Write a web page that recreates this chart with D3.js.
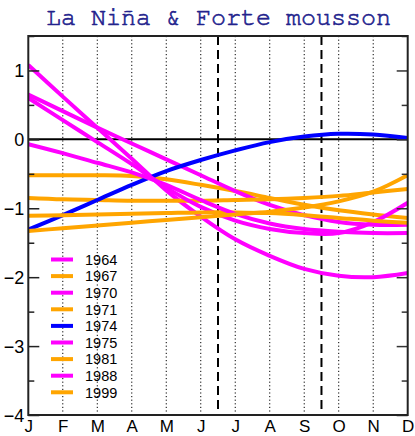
<!DOCTYPE html>
<html>
<head>
<meta charset="utf-8">
<script src="https://cdn.jsdelivr.net/npm/d3@7"></script>
<style>
  html, body { margin: 0; padding: 0; background: #fff; }
  svg { display: block; }
</style>
</head>
<body>
<svg id="chart" width="415" height="436"></svg>
<script>
// Monthly anomaly curves for La Niña years with strong monsoon
const months = ["J", "F", "M", "A", "M", "J", "J", "A", "S", "O", "N", "D"];
const years = ["1964", "1967", "1970", "1971", "1974", "1975", "1981", "1988", "1999"];
const yearColors = ["#ff00ff", "#ffa500", "#ff00ff", "#ffa500", "#0000ff", "#ff00ff", "#ffa500", "#ff00ff", "#ffa500"];

const v1964 = [1.08, 0.62, 0.17, -0.28, -0.74, -1.12, -1.45, -1.69, -1.88, -1.98, -2.0, -1.94];
const v1967 = [-0.52, -0.52, -0.52, -0.53, -0.58, -0.66, -0.75, -0.85, -0.95, -1.03, -1.09, -1.14];
const v1970 = [0.65, 0.41, 0.17, -0.06, -0.29, -0.52, -0.75, -0.95, -1.1, -1.2, -1.24, -1.24];
const v1971 = [-0.85, -0.87, -0.88, -0.89, -0.89, -0.89, -0.88, -0.87, -0.85, -0.82, -0.77, -0.72];
const v1974 = [-1.31, -1.1, -0.88, -0.66, -0.46, -0.3, -0.16, -0.04, 0.04, 0.08, 0.07, 0.02];
const v1975 = [0.6, 0.28, -0.04, -0.36, -0.7, -0.98, -1.18, -1.3, -1.36, -1.36, -1.2, -0.92];
const v1981 = [-1.11, -1.1, -1.09, -1.08, -1.07, -1.06, -1.06, -1.07, -1.1, -1.14, -1.18, -1.21];
const v1988 = [-0.07, -0.2, -0.34, -0.48, -0.66, -0.88, -1.08, -1.22, -1.3, -1.34, -1.36, -1.36];
const v1999 = [-1.33, -1.29, -1.25, -1.21, -1.17, -1.13, -1.09, -1.05, -0.99, -0.9, -0.76, -0.52];

const yTickLabels = [1, 0, -1, -2, -3, -4];
const monsoonBounds = [5.5, 8.5];   // dashed markers between months
const titleText = "La Niña & Forte mousson";

const seriesValues = [v1964, v1967, v1970, v1971, v1974, v1975, v1981, v1988, v1999];

const W = 415, H = 436;
const plot = { left: 28.3, right: 407.7, top: 36, bottom: 415 };

const svg = d3.select("#chart");

const x = d3.scaleLinear().domain([0, 11]).range([plot.left, plot.right]);
const y = d3.scaleLinear().domain([-4, 1.5]).range([plot.bottom, plot.top]);

// Title
svg.append("text")
  .attr("x", (plot.left + plot.right) / 2 + 0.5)
  .attr("y", 25)
  .attr("text-anchor", "middle")
  .attr("font-family", "'Nimbus Mono PS', 'Nimbus Mono L', FreeMono, 'Courier New', Courier, 'Liberation Mono', monospace")
  .attr("font-size", 25)
  .attr("fill", "#22228c")
  .attr("stroke", "#22228c")
  .attr("stroke-width", 0.6)
  .text(titleText);

svg.append("defs").append("clipPath").attr("id", "plotclip")
  .append("rect")
  .attr("x", plot.left).attr("y", plot.top)
  .attr("width", plot.right - plot.left).attr("height", plot.bottom - plot.top);

// Dotted month grid lines
const gridMonths = d3.range(1, 11);
svg.append("g")
  .selectAll("line")
  .data(gridMonths)
  .join("line")
  .attr("x1", d => x(d)).attr("x2", d => x(d))
  .attr("y1", plot.top).attr("y2", plot.bottom)
  .attr("stroke", "#000")
  .attr("stroke-width", 1)
  .attr("stroke-dasharray", "1.2,2.4");

// Dashed season markers
svg.append("g")
  .selectAll("line")
  .data(monsoonBounds)
  .join("line")
  .attr("x1", d => x(d)).attr("x2", d => x(d))
  .attr("y1", plot.top).attr("y2", plot.bottom)
  .attr("stroke", "#000")
  .attr("stroke-width", 2)
  .attr("stroke-dasharray", "9,5");

// Zero line
svg.append("line")
  .attr("x1", plot.left).attr("x2", plot.right)
  .attr("y1", y(0)).attr("y2", y(0))
  .attr("stroke", "#000")
  .attr("stroke-width", 2);

// Series curves
const line = d3.line()
  .x((d, i) => x(i))
  .y(d => y(d))
  .curve(d3.curveCatmullRom.alpha(0.5));

svg.append("g")
  .attr("clip-path", "url(#plotclip)")
  .selectAll("path")
  .data(seriesValues)
  .join("path")
  .attr("d", d => line(d))
  .attr("fill", "none")
  .attr("stroke", (d, i) => yearColors[i])
  .attr("stroke-width", 4)
  .attr("stroke-linejoin", "round");

// Left axis: inward ticks, labels outside
const minorVals = d3.range(-3.5, 1.6, 1);
const leftAxis = d3.axisRight(y)
  .tickValues(yTickLabels)
  .tickSize(11)
  .tickFormat(d3.format("d"));
const gl = svg.append("g").attr("transform", `translate(${plot.left},0)`).call(leftAxis);
gl.select(".domain").remove();
gl.selectAll(".tick line").attr("stroke", "#222").attr("stroke-width", 1.5);
gl.selectAll(".tick text")
  .attr("x", -4)
  .attr("text-anchor", "end")
  .attr("font-family", "'Liberation Sans', Arial, sans-serif")
  .attr("font-size", 18)
  .attr("fill", "#000")
  .attr("dy", "0.35em");

const leftMinor = d3.axisRight(y).tickValues(minorVals).tickSize(6).tickFormat("");
const glm = svg.append("g").attr("transform", `translate(${plot.left},0)`).call(leftMinor);
glm.select(".domain").remove();
glm.selectAll(".tick line").attr("stroke", "#222").attr("stroke-width", 1.5);

// Right axis: inward ticks, no labels
const rightAxis = d3.axisLeft(y).tickValues(yTickLabels).tickSize(11).tickFormat("");
const gr = svg.append("g").attr("transform", `translate(${plot.right},0)`).call(rightAxis);
gr.select(".domain").remove();
gr.selectAll(".tick line").attr("stroke", "#333").attr("stroke-width", 1.5);
const rightMinor = d3.axisLeft(y).tickValues(minorVals).tickSize(6).tickFormat("");
const grm = svg.append("g").attr("transform", `translate(${plot.right},0)`).call(rightMinor);
grm.select(".domain").remove();
grm.selectAll(".tick line").attr("stroke", "#333").attr("stroke-width", 1.5);

// Bottom month labels
const bottomAxis = d3.axisBottom(x)
  .tickValues(d3.range(0, 12))
  .tickSize(0)
  .tickFormat(i => months[i]);
const gb = svg.append("g").attr("transform", `translate(0,${plot.bottom})`).call(bottomAxis);
gb.select(".domain").remove();
gb.selectAll(".tick text")
  .attr("y", 17)
  .attr("dy", 0)
  .attr("font-family", "'Liberation Sans', Arial, sans-serif")
  .attr("font-size", 17)
  .attr("fill", "#000");

// Frame
svg.append("rect")
  .attr("x", plot.left).attr("y", plot.top)
  .attr("width", plot.right - plot.left).attr("height", plot.bottom - plot.top)
  .attr("fill", "none")
  .attr("stroke", "#222")
  .attr("stroke-width", 2);

// Legend
const legend = svg.append("g");
const legRow = legend.selectAll("g")
  .data(years)
  .join("g")
  .attr("transform", (d, i) => `translate(0,${259.5 + i * 16.6})`);
legRow.append("line")
  .attr("x1", 51).attr("x2", 73)
  .attr("y1", 0).attr("y2", 0)
  .attr("stroke", (d, i) => yearColors[i])
  .attr("stroke-width", 4);
legRow.append("text")
  .attr("x", 85)
  .attr("y", 0)
  .attr("dy", "0.36em")
  .attr("font-family", "'Liberation Sans', Arial, sans-serif")
  .attr("font-size", 14.5)
  .attr("fill", "#000")
  .text(d => d);
</script>
</body>
</html>
